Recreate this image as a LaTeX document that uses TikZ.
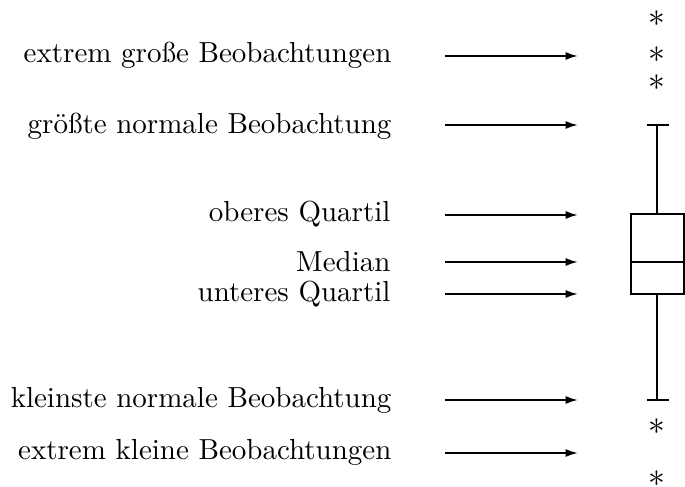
\documentclass[tikz,border=0pt]{standalone}
\usetikzlibrary{arrows.meta}
\begin{document}
\begin{tikzpicture}[x=0.325pt,y=-0.325pt,
  lbl/.style={anchor=east,inner sep=0pt,font=\fontsize{10}{12}\selectfont,scale=0.942,transform shape},
  arr/.style={-{Latex[length=4pt,width=2.6pt]},line width=0.65pt},
  plot/.style={line width=0.65pt},
  star/.style={inner sep=0pt,font=\fontsize{11}{12}\selectfont}]
\useasboundingbox (0,0) rectangle (685,487);
% labels
\node[lbl] (l1) at (392,55) {extrem große Beobachtungen};
\node[lbl] (l2) at (392,126) {größte normale Beobachtung};
\node[lbl] (l3) at (391,214) {oberes Quartil};
\node[lbl] (l4) at (391,262) {Median};
\node[lbl] (l5) at (391,294) {unteres Quartil};
\node[lbl] (l6) at (392,400) {kleinste normale Beobachtung};
\node[lbl] (l7) at (392,452) {extrem kleine Beobachtungen};
% arrow endpoints
\foreach \i/\y in {1/56,2/125,3/215,4/262,5/294,6/400,7/453}{
  \coordinate (s\i) at (445,\y);
  \coordinate (e\i) at (578,\y);
  \draw[arr] (s\i) -- (e\i);
}
% boxplot
\coordinate (btl) at (630.5,214);
\coordinate (bbr) at (684,294);
\draw[plot] (btl) rectangle (bbr);
\coordinate (ml) at (630.5,262);
\coordinate (mr) at (684,262);
\draw[plot] (ml) -- (mr);
\coordinate (wt) at (657,125);
\coordinate (bt) at (657,214);
\coordinate (wb) at (657,400);
\coordinate (bb) at (657,294);
\draw[plot] (wt) -- (bt);
\draw[plot] (bb) -- (wb);
\coordinate (ctl) at (647,125);
\coordinate (ctr) at (669,125);
\coordinate (cbl) at (647,400);
\coordinate (cbr) at (669,400);
\draw[plot] (ctl) -- (ctr);
\draw[plot] (cbl) -- (cbr);
% outliers
\node[star] (o1) at (657,19) {$*$};
\node[star] (o2) at (657,55) {$*$};
\node[star] (o3) at (657,83) {$*$};
\node[star] (o4) at (657,427) {$*$};
\node[star] (o5) at (657,479) {$*$};
\end{tikzpicture}
\end{document}
